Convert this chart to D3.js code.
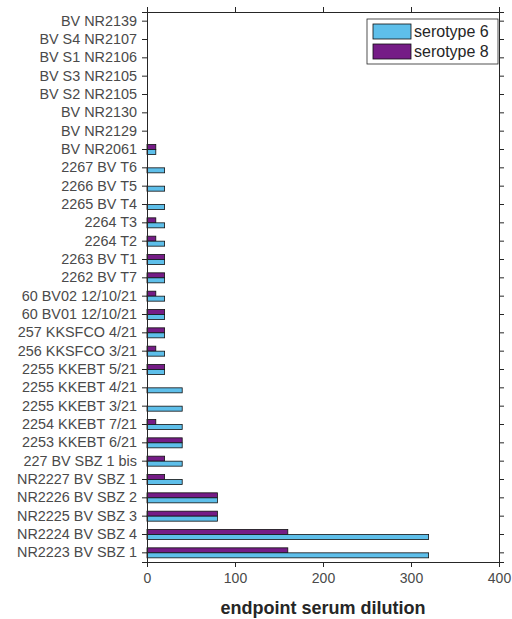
<!DOCTYPE html>
<html>
<head>
<meta charset="utf-8">
<script src="https://cdn.jsdelivr.net/npm/d3@7"></script>
<style>
  body { margin: 0; background: #fff; }
  text { font-family: "Liberation Sans", Arial, sans-serif; }
</style>
</head>
<body>
<div id="chart"></div>
<script>
// samples, top to bottom
var samples = ["BV NR2139", "BV S4 NR2107", "BV S1 NR2106", "BV S3 NR2105", "BV S2 NR2105",
  "BV NR2130", "BV NR2129", "BV NR2061", "2267 BV T6", "2266 BV T5", "2265 BV T4",
  "2264 T3", "2264 T2", "2263 BV T1", "2262 BV T7", "60 BV02 12/10/21", "60 BV01 12/10/21",
  "257 KKSFCO 4/21", "256 KKSFCO 3/21", "2255 KKEBT 5/21", "2255 KKEBT 4/21",
  "2255 KKEBT 3/21", "2254 KKEBT 7/21", "2253 KKEBT 6/21", "227 BV SBZ 1 bis",
  "NR2227 BV SBZ 1", "NR2226 BV SBZ 2", "NR2225 BV SBZ 3", "NR2224 BV SBZ 4", "NR2223 BV SBZ 1"];
var sero6 = [0, 0, 0, 0, 0, 0, 0, 10, 20, 20, 20, 20, 20, 20, 20, 20, 20, 20, 20, 20, 40, 40, 40, 40, 40, 40, 80, 80, 320, 320];
var sero8 = [0, 0, 0, 0, 0, 0, 0, 10, 0, 0, 0, 10, 10, 20, 20, 10, 20, 20, 10, 20, 0, 0, 10, 40, 20, 20, 80, 80, 160, 160];
var xTicks = [0, 100, 200, 300, 400];
var seriesNames = ["serotype 6", "serotype 8"];
var seriesColors = ["#5ebfea", "#751c86"];

var w = 512, h = 619;
var padLeft = 147, padRight = 499, padTop = 12, padBottom = 562;

var svg = d3.select("#chart").append("svg").attr("width", w).attr("height", h);

var x = d3.scaleLinear().domain([0, 400]).range([padLeft, padRight]);
var y = d3.scaleBand().domain(samples).range([padTop, padBottom]).padding(0);
var barH = 5;

// bars: serotype 8 above, serotype 6 below
var rows = samples.map(function (s, i) { return { name: s, v6: sero6[i], v8: sero8[i] }; });

svg.selectAll(".b8").data(rows.filter(function (d) { return d.v8 > 0; })).enter().append("rect")
  .attr("x", x(0)).attr("y", function (d) { return y(d.name) + y.bandwidth() / 2 - barH; })
  .attr("width", function (d) { return x(d.v8) - x(0); }).attr("height", barH)
  .attr("fill", seriesColors[1]).attr("stroke", "#111").attr("stroke-width", 0.8);

svg.selectAll(".b6").data(rows.filter(function (d) { return d.v6 > 0; })).enter().append("rect")
  .attr("x", x(0)).attr("y", function (d) { return y(d.name) + y.bandwidth() / 2; })
  .attr("width", function (d) { return x(d.v6) - x(0); }).attr("height", barH)
  .attr("fill", seriesColors[0]).attr("stroke", "#111").attr("stroke-width", 0.8);

// axes (box with outward ticks on all sides)
var axisColor = "#262626";
function styleAxis(g, fontSize) {
  g.select(".domain").attr("stroke", axisColor);
  g.selectAll(".tick line").attr("stroke", axisColor);
  g.selectAll(".tick text").attr("fill", "#4a4a4a").attr("font-size", fontSize)
    .style("font-family", "'Liberation Sans', Arial, sans-serif");
}

var gx = svg.append("g").attr("transform", "translate(0," + padBottom + ")")
  .call(d3.axisBottom(x).tickValues(xTicks).tickSizeOuter(0).tickSize(5).tickPadding(6));
styleAxis(gx, 14);

var gxt = svg.append("g").attr("transform", "translate(0," + padTop + ")")
  .call(d3.axisTop(x).tickValues(xTicks).tickSizeOuter(0).tickSize(5).tickFormat(""));
styleAxis(gxt, 14);

var gy = svg.append("g").attr("transform", "translate(" + padLeft + ",0)")
  .call(d3.axisLeft(y).tickSizeOuter(0).tickSize(5).tickPadding(5));
styleAxis(gy, 14.4);

var gyr = svg.append("g").attr("transform", "translate(" + padRight + ",0)")
  .call(d3.axisRight(y).tickSizeOuter(0).tickSize(5).tickFormat(""));
styleAxis(gyr, 14);

// x label
svg.append("text").attr("x", (padLeft + padRight) / 2).attr("y", 614)
  .attr("text-anchor", "middle").attr("font-size", 18).attr("font-weight", "bold")
  .attr("fill", "#262626").text("endpoint serum dilution");

// legend
var lg = svg.append("g");
lg.append("rect").attr("x", 367).attr("y", 19).attr("width", 131).attr("height", 45)
  .attr("fill", "#fff").attr("stroke", axisColor).attr("stroke-width", 0.8);
seriesNames.forEach(function (n, i) {
  lg.append("rect").attr("x", 373).attr("y", 24 + i * 20).attr("width", 38).attr("height", 15)
    .attr("fill", seriesColors[i]).attr("stroke", "#111").attr("stroke-width", 0.8);
  lg.append("text").attr("x", 414).attr("y", 31.5 + i * 20).attr("dy", ".35em")
    .attr("font-size", 16).attr("fill", "#262626").text(n);
});
</script>
</body>
</html>
